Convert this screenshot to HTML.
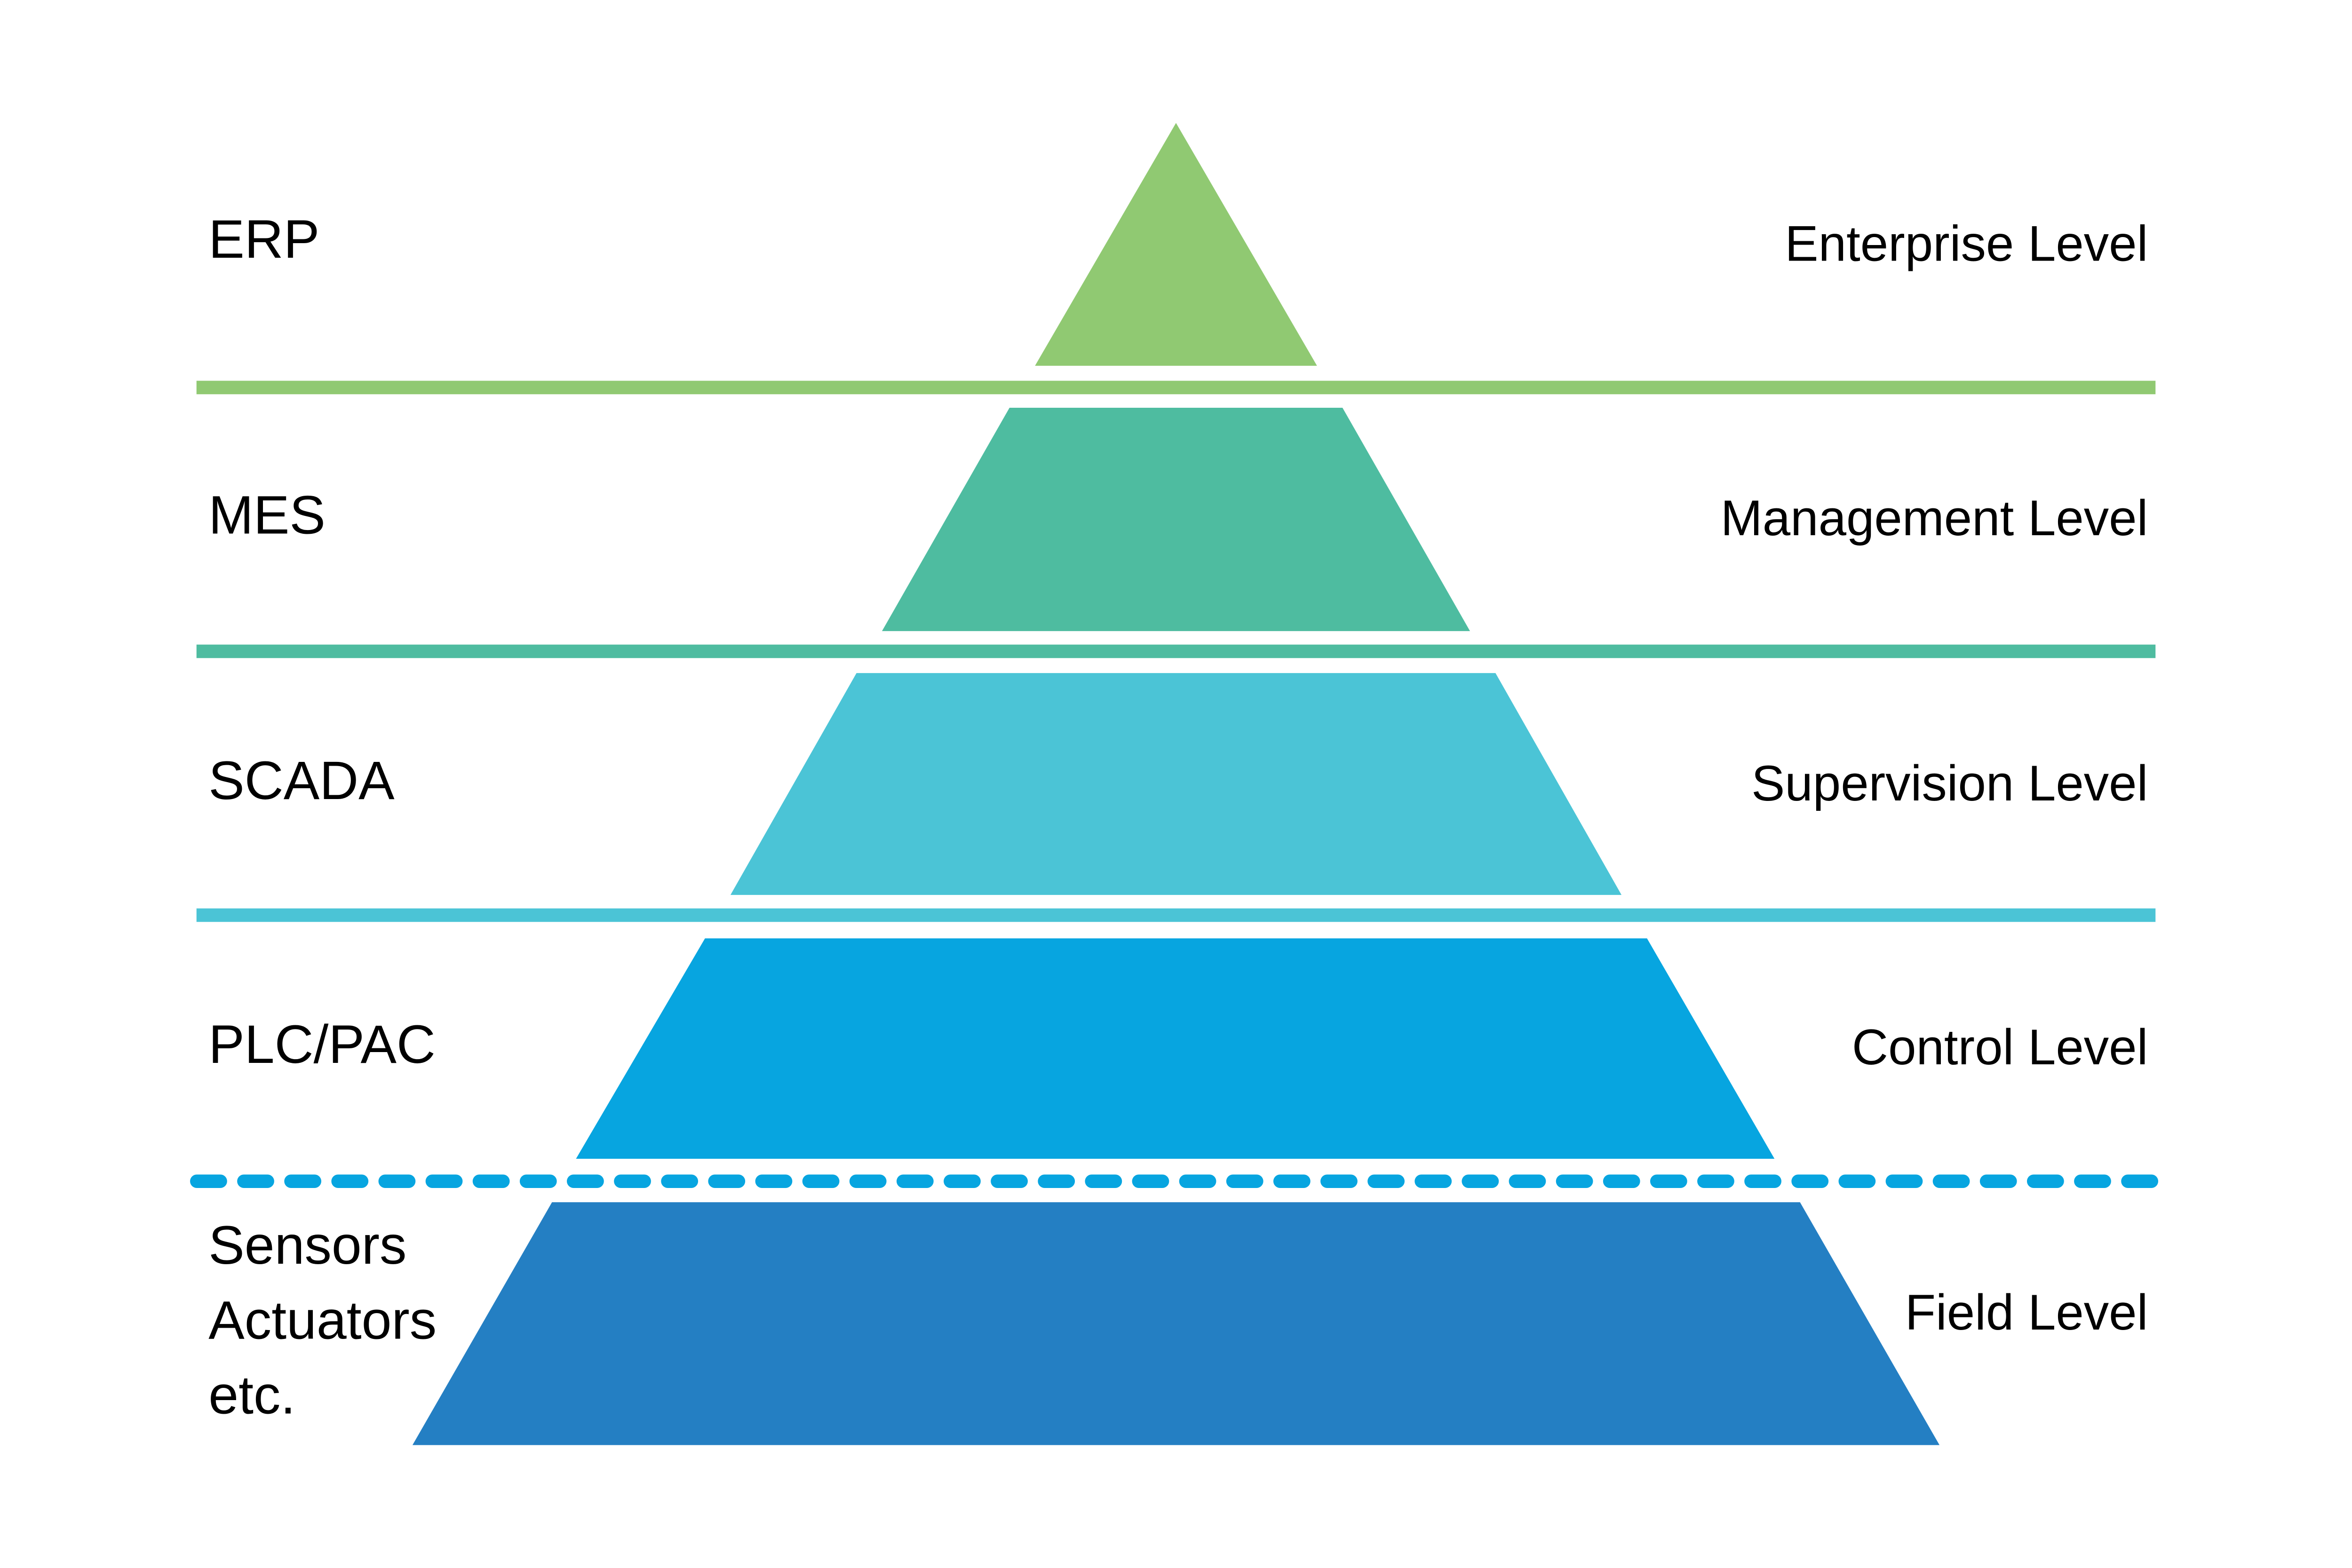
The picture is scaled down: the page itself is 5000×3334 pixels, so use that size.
<!DOCTYPE html>
<html><head><style>html,body{margin:0;padding:0;background:#fff}svg{display:block}</style></head>
<body>
<svg width="5000" height="3334" viewBox="0 0 1568 1046" preserveAspectRatio="none" xmlns="http://www.w3.org/2000/svg">
<rect width="1568" height="1046" fill="#fff"/>
<polygon points="784,82 878,244 690,244" fill="#90c972"/>
<rect x="131" y="254" width="1306" height="9" fill="#90c972"/>
<polygon points="673,272 895,272 980,421 588,421" fill="#4ebca0"/>
<rect x="131" y="430" width="1306" height="9" fill="#4ebca0"/>
<polygon points="571,449 997,449 1081,597 487,597" fill="#4bc4d6"/>
<rect x="131" y="606" width="1306" height="9" fill="#4bc4d6"/>
<polygon points="470,626 1098,626 1183,773 384,773" fill="#07a5e0"/>
<line x1="131.2" y1="788" x2="1437" y2="788" stroke="#07a5e0" stroke-width="9" stroke-linecap="round" stroke-dasharray="15.7 15.7"/>
<polygon points="368,802 1200,802 1293,964 275,964" fill="#247fc3"/>
<g font-family="Liberation Sans, sans-serif" font-size="36" fill="#000">
<text x="139" y="172">ERP</text>
<text x="139" y="356">MES</text>
<text x="139" y="533">SCADA</text>
<text x="139" y="709">PLC/PAC</text>
<text x="139" y="843">Sensors</text>
<text x="139" y="893">Actuators</text>
<text x="139" y="943">etc.</text>
</g>
<g font-family="Liberation Sans, sans-serif" font-size="33.5" fill="#000" text-anchor="end">
<text x="1432" y="174">Enterprise Level</text>
<text x="1432" y="357">Management Level</text>
<text x="1432" y="534">Supervision Level</text>
<text x="1432" y="710">Control Level</text>
<text x="1432" y="887">Field Level</text>
</g>
</svg>
</body></html>
